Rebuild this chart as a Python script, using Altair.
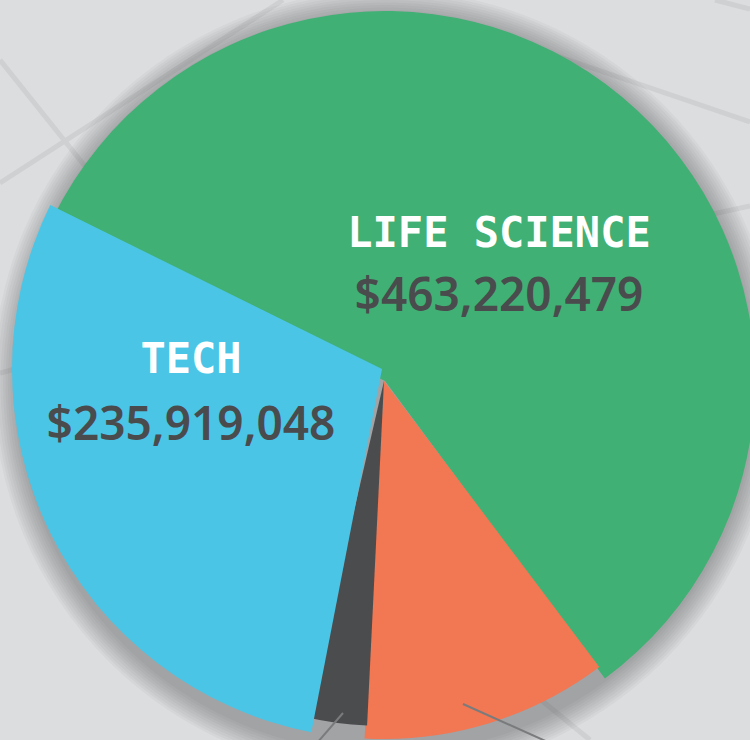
import math
import altair as alt
import pandas as pd

# ---- data ----
categories = ["LIFE SCIENCE", "OTHER", "MISC", "TECH"]
amounts = [463220479, 89800000, 17700000, 235919048]
show_label = [True, False, False, True]

colors = ["#41b074", "#f27753", "#4b4c4e", "#4ac5e6"]

W, H = 750, 740
START = math.radians(-63.7)

# small angular overlap (style) so neighbouring wedges meet without gaps
pad_start = {"LIFE SCIENCE": 0.0, "OTHER": 0.0, "MISC": math.radians(0.3), "TECH": 0.0}
pad_end = {"LIFE SCIENCE": math.radians(0.5), "OTHER": 0.0,
           "MISC": math.radians(2.0), "TECH": 0.0}

total = sum(amounts)
rows = []
acc = 0.0
for c, a, s in zip(categories, amounts, show_label):
    t0 = START + 2 * math.pi * acc / total
    acc += a
    t1 = START + 2 * math.pi * acc / total
    rows.append({"cat": c, "amount": a, "show": s,
                 "start": t0 - pad_start[c], "end": t1 + pad_end[c]})
df = pd.DataFrame(rows)

color_scale = alt.Scale(domain=categories, range=colors)

# per-slice geometry (style): centre x, centre y, radius
geom = {
    "LIFE SCIENCE": (385, 381, 370),
    "OTHER": (384, 381, 358),
    "MISC": (384, 381, 345),
    "TECH": (382, 369, 370),
}

one = alt.Data(values=[{"k": 1}])

# background stripes (decoration)
stripes = [
    (0, 60, 140, 235),
    (0, 183, 283, 0),
    (545, 52, 750, 122),
    (690, 219, 750, 206),
    (715, 0, 750, 9),
    (535, 695, 590, 740),
    (0, 373, 30, 365),
]
stripe_layers = [
    alt.Chart(one).mark_rule(color="#cfd0d2", strokeWidth=5).encode(
        x=alt.value(x1), y=alt.value(y1), x2=alt.value(x2), y2=alt.value(y2)
    )
    for (x1, y1, x2, y2) in stripes
]

# soft drop shadow
shadow_layers = [
    alt.Chart(one).mark_arc(theta=0, theta2=2 * math.pi, color="#3a3a3c", opacity=0.045).encode(
        x=alt.value(386), y=alt.value(383), radius=alt.value(368 + 2.5 * k)
    )
    for k in range(10, 0, -1)
]

slice_layers = []
for c in categories:
    cx, cy, r = geom[c]
    slice_layers.append(
        alt.Chart(df).transform_filter(alt.datum.cat == c).mark_arc().encode(
            theta=alt.Theta("start:Q", scale=None),
            theta2="end:Q",
            color=alt.Color("cat:N", scale=color_scale, legend=None),
            x=alt.value(cx), y=alt.value(cy), radius=alt.value(r),
        )
    )

leaders = [
    alt.Chart(one).mark_rule(color="#7a7b7d", strokeWidth=2).encode(
        x=alt.value(343), y=alt.value(713), x2=alt.value(317), y2=alt.value(743)
    ),
    alt.Chart(one).mark_rule(color="#7a7b7d", strokeWidth=2).encode(
        x=alt.value(463), y=alt.value(704), x2=alt.value(550), y2=alt.value(743)
    ),
]

label_pos = {"LIFE SCIENCE": (499, 247, 311), "TECH": (191, 373, 440)}
text_layers = []
for c, (lx, ly, vy) in label_pos.items():
    base = alt.Chart(df).transform_filter(alt.datum.cat == c)
    text_layers.append(
        base.mark_text(font="DejaVu Sans Mono", fontWeight="bold", fontSize=42,
                       color="white", align="center", baseline="alphabetic").encode(
            text="cat:N", x=alt.value(lx), y=alt.value(ly)
        )
    )
    text_layers.append(
        base.mark_text(font="Noto Sans", fontWeight=600, fontSize=46, color="#4a4b4d",
                       align="center", baseline="alphabetic").encode(
            text=alt.Text("amount:Q", format="$,d"), x=alt.value(lx), y=alt.value(vy)
        )
    )

chart = alt.layer(*stripe_layers, *shadow_layers, *slice_layers, *leaders, *text_layers).properties(
    width=W, height=H, padding=0, autosize=alt.AutoSizeParams(type="none"),
    background="#dcdddf",
).configure_view(stroke=None)

chart.save("out.html", embed_options={"renderer": "svg", "actions": False})
